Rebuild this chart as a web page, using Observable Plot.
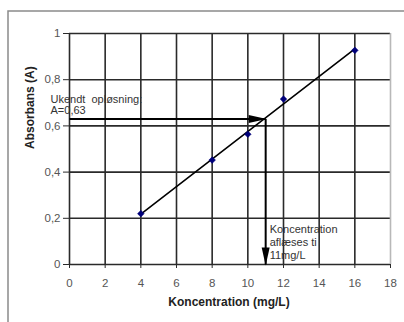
<!DOCTYPE html>
<html>
<head>
<meta charset="utf-8">
<script src="https://cdn.jsdelivr.net/npm/d3@7"></script>
<script src="https://cdn.jsdelivr.net/npm/@observablehq/plot@0.6"></script>
<style>
  html, body { margin: 0; padding: 0; background: #fff; }
  #chart { position: relative; width: 404px; height: 322px; overflow: hidden; }
  #chart svg { display: block; font-family: "Liberation Sans", Arial, sans-serif; }
</style>
</head>
<body>
<div id="chart"></div>
<script>
// Data
const concentrations = [4, 8, 10, 12, 16];              // mg/L
const absorbances    = [0.22, 0.452, 0.564, 0.716, 0.927];
const xTicks = [0, 2, 4, 6, 8, 10, 12, 14, 16, 18];
const yTicks = [0, 0.2, 0.4, 0.6, 0.8, 1];
const unknownA = 0.63;      // read absorbance
const unknownC = 11;        // read concentration (mg/L)
const xLabel = "Koncentration (mg/L)";
const yLabel = "Absorbans (A)";
const noteA = "Ukendt  opløsning:\nA=0,63";
const noteC = "Koncentration\naflæses ti\n11mg/L";

const points = concentrations.map((c, i) => ({c, a: absorbances[i]}));
const fmt = d => String(d).replace(".", ",");

const plot = Plot.plot({
  width: 404,
  height: 322,
  marginLeft: 69,
  marginRight: 14,
  marginTop: 33,
  marginBottom: 58,
  style: {fontFamily: "Liberation Sans, Arial, sans-serif", background: "#fff"},
  x: {domain: [0, 18]},
  y: {domain: [0, 1]},
  marks: [
    Plot.gridX(xTicks.filter(d => d < 18), {stroke: "#2a2a2a", strokeOpacity: 1, strokeWidth: 1.6}),
    Plot.gridY(yTicks, {stroke: "#2a2a2a", strokeOpacity: 1, strokeWidth: 1.6}),
    Plot.ruleX([18], {stroke: "#b8b8b8", strokeWidth: 1.6}),
    Plot.axisX({ticks: xTicks, tickSize: 4, tickPadding: 10, tickFormat: fmt, fontSize: 11.5, stroke: "#2a2a2a", fill: "#555", label: null}),
    Plot.axisY({ticks: yTicks, tickSize: 6, tickPadding: 3, tickFormat: fmt, fontSize: 11.5, stroke: "#2a2a2a", fill: "#555", label: null}),
    Plot.linearRegressionY(points, {x: "c", y: "a", ci: 0, stroke: "#000", strokeWidth: 1.6}),
    Plot.dot(points, {x: "c", y: "a", symbol: "diamond2", r: 3, fill: "#00007a", stroke: "#00007a", strokeWidth: 0.5}),
    // arrows for reading unknown sample
    Plot.link([{x1: 0, y1: unknownA, x2: unknownC, y2: unknownA}], {x1: "x1", y1: "y1", x2: "x2", y2: "y2", stroke: "#000", strokeWidth: 2}),
    Plot.link([{x1: unknownC, y1: unknownA, x2: unknownC, y2: 0}], {x1: "x1", y1: "y1", x2: "x2", y2: "y2", stroke: "#000", strokeWidth: 2}),
    Plot.text([noteA], {x: 0, y: unknownA, text: d => d, textAnchor: "start", lineAnchor: "bottom", dx: -19, dy: -5, fontSize: 11, lineHeight: 1.0, fill: "#333"}),
    Plot.text([noteC], {x: unknownC, y: 0, text: d => d, textAnchor: "start", lineAnchor: "bottom", dx: 4, dy: -6, fontSize: 11, lineHeight: 1.14, fill: "#333"}),
    Plot.text([xLabel], {frameAnchor: "bottom", dy: 41, fontSize: 12, fontWeight: "bold", fill: "#222", dx: -1}),
    Plot.text([yLabel], {frameAnchor: "left", dx: -39, rotate: -90, fontSize: 12, fontWeight: "bold", fill: "#222"})
  ]
});

// Filled arrowheads on the reading lines and the chart-area frame
const svg = d3.select(plot);
svg.append("defs").append("marker")
  .attr("id", "ah")
  .attr("markerUnits", "userSpaceOnUse")
  .attr("markerWidth", 20).attr("markerHeight", 10)
  .attr("viewBox", "0 -5 18 10")
  .attr("refX", 17).attr("refY", 0)
  .attr("orient", "auto")
  .append("path").attr("d", "M0,-4L18,0L0,4Z").attr("fill", "#000");
svg.selectAll('g[aria-label="link"] path').attr("marker-end", "url(#ah)");
svg.append("rect")
  .attr("x", 8).attr("y", 11).attr("width", 420).attr("height", 340)
  .attr("fill", "none").attr("stroke", "#8a8a8a").attr("stroke-width", 1.5);

document.getElementById("chart").appendChild(plot);
</script>
</body>
</html>
